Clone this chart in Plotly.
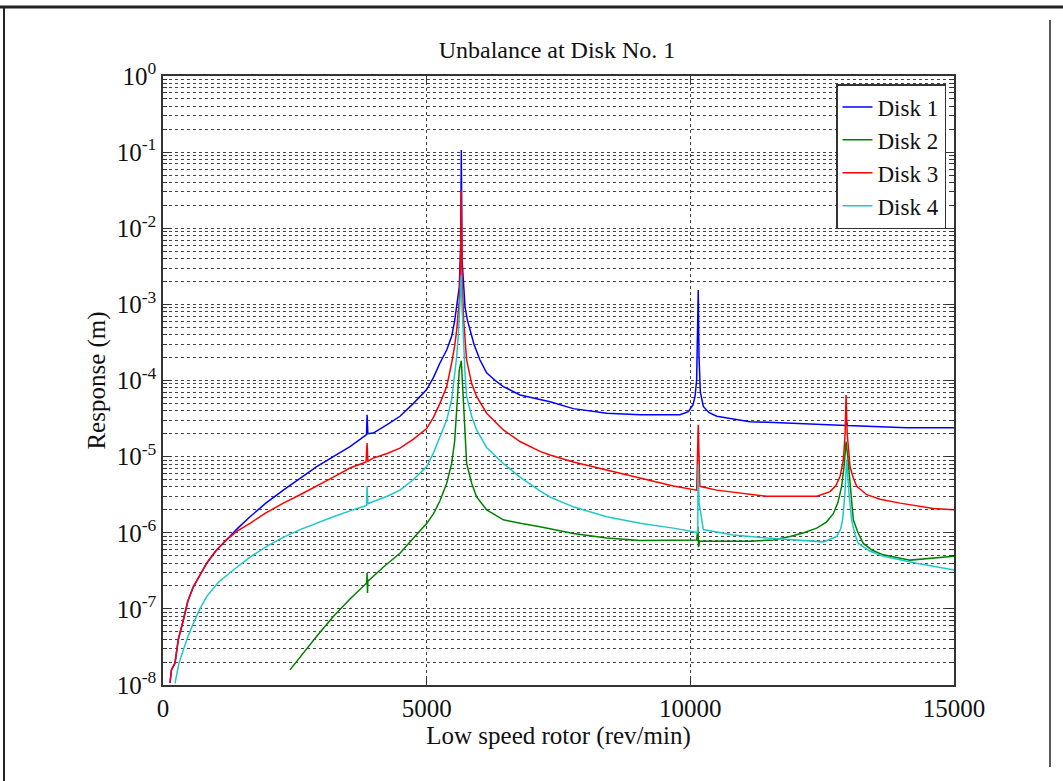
import plotly.graph_objects as go

# ---- data (speed in rev/min, response in m) ----
disk1_x = [133, 160, 228, 290, 385, 470, 575, 700, 828, 1000, 1208, 1420, 1650, 1950, 2282, 2600,
           2915, 3230, 3546, 3860, 3870, 3885, 3988, 4250, 4494, 4750, 5000, 5130, 5252, 5380,
           5474, 5530, 5569, 5600, 5619, 5645, 5657, 5670, 5700, 5727, 5770, 5822, 5900, 6011,
           6137, 6300, 6454, 6770, 7149, 7339, 7781, 8414, 9046, 9804, 9962, 10050, 10089, 10120,
           10150, 10165, 10190, 10246, 10350, 10500, 11131, 12079, 12950, 12965, 12980, 14103, 15000]
disk1_y = [1.07e-8, 1.58e-8, 1.95e-8, 3.98e-8, 7.08e-8, 1.26e-7, 1.95e-7, 2.82e-7, 3.98e-7, 5.75e-7,
           8.13e-7, 1.15e-6, 1.62e-6, 2.45e-6, 3.63e-6, 5.25e-6, 7.41e-6, 1.0e-5, 1.35e-5, 1.95e-5,
           3.55e-5, 2.0e-5, 2.04e-5, 2.63e-5, 3.39e-5, 5.01e-5, 7.59e-5, 1.10e-4, 1.70e-4, 2.51e-4,
           3.80e-4, 6.03e-4, 9.33e-4, 1.32e-3, 1.70e-3, 6.31e-3, 1.07e-1, 3.98e-3, 1.58e-3, 9.33e-4,
           6.31e-4, 4.57e-4, 2.95e-4, 1.86e-4, 1.26e-4, 1.0e-4, 8.32e-5, 6.46e-5, 5.56e-5, 5.25e-5,
           4.27e-5, 3.72e-5, 3.55e-5, 3.55e-5, 3.89e-5, 4.79e-5, 6.17e-5, 1.02e-4, 1.55e-3, 2.0e-4,
           7.08e-5, 4.57e-5, 3.80e-5, 3.39e-5, 2.88e-5, 2.69e-5, 2.57e-5, 2.82e-5, 2.57e-5, 2.40e-5,
           2.40e-5]

disk2_x = [2408, 2598, 2915, 3230, 3546, 3863, 3870, 3878, 3886, 3895, 4180, 4494, 4750, 5000, 5130,
           5252, 5380, 5474, 5530, 5569, 5600, 5619, 5657, 5700, 5727, 5758, 5853, 5947, 6137, 6454,
           6800, 7149, 7781, 8414, 9046, 9677, 10120, 10145, 10155, 10175, 11131, 11574, 11890,
           12150, 12396, 12580, 12711, 12800, 12869, 12920, 12953, 12985, 13015, 13050, 13091,
           13180, 13281, 13450, 13660, 14166, 14608, 15000]
disk2_y = [1.58e-8, 2.34e-8, 4.37e-8, 7.94e-8, 1.35e-7, 2.19e-7, 2.95e-7, 1.62e-7, 2.40e-7, 2.34e-7,
           3.55e-7, 5.37e-7, 8.51e-7, 1.32e-6, 1.78e-6, 2.63e-6, 4.47e-6, 8.13e-6, 1.58e-5, 3.72e-5,
           7.08e-5, 1.38e-4, 1.82e-4, 5.01e-5, 1.78e-5, 8.13e-6, 4.47e-6, 2.95e-6, 2.0e-6, 1.48e-6,
           1.32e-6, 1.20e-6, 9.77e-7, 8.51e-7, 7.94e-7, 7.94e-7, 8.04e-7, 1.20e-6, 6.46e-7, 7.76e-7,
           7.76e-7, 8.04e-7, 8.91e-7, 1.0e-6, 1.15e-6, 1.38e-6, 1.78e-6, 2.51e-6, 4.07e-6, 7.94e-6,
           1.58e-5, 1.0e-5, 5.50e-6, 2.82e-6, 1.48e-6, 1.0e-6, 7.24e-7, 5.89e-7, 5.13e-7, 4.37e-7,
           4.68e-7, 4.90e-7]

disk3_x = [133, 160, 228, 290, 385, 470, 575, 700, 828, 1000, 1208, 1420, 1650, 1950, 2282, 2600,
           2915, 3230, 3546, 3850, 3870, 3885, 3988, 4250, 4494, 4750, 5000, 5130, 5252, 5380,
           5474, 5530, 5569, 5600, 5619, 5645, 5657, 5670, 5700, 5758, 5853, 5947, 6137, 6454,
           6770, 7149, 7339, 7781, 8414, 9046, 9677, 10120, 10150, 10165, 10180, 10500, 11448,
           12396, 12650, 12760, 12840, 12903, 12935, 12953, 12975, 13028, 13090, 13155, 13345,
           13600, 13976, 14608, 15000]
disk3_y = [1.07e-8, 1.58e-8, 1.95e-8, 3.98e-8, 7.08e-8, 1.26e-7, 1.95e-7, 2.82e-7, 3.98e-7, 5.75e-7,
           8.13e-7, 1.07e-6, 1.33e-6, 1.82e-6, 2.45e-6, 3.16e-6, 4.07e-6, 5.37e-6, 7.08e-6, 8.51e-6,
           1.51e-5, 8.71e-6, 9.55e-6, 1.10e-5, 1.29e-5, 1.70e-5, 2.34e-5, 3.31e-5, 5.01e-5, 8.32e-5,
           1.70e-4, 2.82e-4, 4.57e-4, 7.94e-4, 1.12e-3, 3.98e-3, 3.16e-2, 2.51e-3, 6.31e-4, 1.86e-4,
           9.12e-5, 6.17e-5, 3.72e-5, 2.24e-5, 1.58e-5, 1.17e-5, 1.05e-5, 8.51e-6, 6.68e-6, 5.25e-6,
           4.12e-6, 3.63e-6, 2.63e-5, 1.0e-5, 4.07e-6, 3.63e-6, 3.02e-6, 3.02e-6, 3.47e-6, 4.17e-6,
           5.50e-6, 9.12e-6, 2.0e-5, 6.46e-5, 2.0e-5, 7.41e-6, 5.25e-6, 4.07e-6, 3.16e-6, 2.75e-6,
           2.45e-6, 2.09e-6, 2.0e-6]

disk4_x = [228, 300, 385, 475, 575, 700, 828, 1050, 1333, 1650, 1966, 2280, 2598, 2915, 3230, 3520,
           3799, 3860, 3870, 3885, 3988, 4250, 4494, 4750, 5000, 5130, 5252, 5380, 5474, 5530,
           5569, 5600, 5619, 5645, 5657, 5670, 5700, 5727, 5758, 5853, 5947, 6137, 6454, 6770,
           7149, 7339, 7781, 8414, 9046, 9677, 10089, 10140, 10150, 10165, 10246, 10815, 11448,
           12079, 12521, 12774, 12850, 12888, 12930, 12964, 13010, 13059, 13120, 13186, 13400,
           13660, 14292, 15000]
disk4_y = [1.05e-8, 1.91e-8, 2.88e-8, 4.37e-8, 6.46e-8, 1.0e-7, 1.45e-7, 2.24e-7, 3.24e-7, 4.79e-7,
           6.61e-7, 8.71e-7, 1.10e-6, 1.35e-6, 1.62e-6, 1.91e-6, 2.19e-6, 2.29e-6, 4.07e-6, 2.40e-6,
           2.57e-6, 3.02e-6, 3.63e-6, 5.01e-6, 7.41e-6, 1.12e-5, 1.82e-5, 3.02e-5, 5.62e-5, 1.12e-4,
           2.04e-4, 3.98e-4, 6.61e-4, 1.26e-3, 2.40e-3, 1.0e-3, 3.16e-4, 1.26e-4, 6.17e-5, 3.39e-5,
           2.24e-5, 1.32e-5, 8.13e-6, 5.37e-6, 3.55e-6, 2.95e-6, 2.19e-6, 1.62e-6, 1.33e-6, 1.15e-6,
           1.02e-6, 1.0e-6, 7.94e-6, 2.51e-6, 1.10e-6, 9.33e-7, 8.51e-7, 7.94e-7, 7.59e-7, 8.91e-7,
           1.12e-6, 1.48e-6, 3.16e-6, 9.12e-6, 3.16e-6, 1.48e-6, 9.55e-7, 7.24e-7, 5.75e-7, 4.90e-7,
           3.98e-7, 3.24e-7]

series_names = ["Disk 1", "Disk 2", "Disk 3", "Disk 4"]
series_colors = ["#0000FF", "#008000", "#FF0000", "#1FC8C8"]

x_tickvals = [0, 5000, 10000, 15000]
x_ticktext = ["0", "5000", "10000", "15000"]
y_exponents = [0, -1, -2, -3, -4, -5, -6, -7, -8]

title_text = "Unbalance at Disk No. 1"
x_title = "Low speed rotor (rev/min)"
y_title = "Response (m)"

# ---- figure ----
W, H = 1063, 781
L, R, T, B = 163, 954, 76, 685
FONT = "Liberation Serif, Times New Roman, serif"
TXT = "#111111"

fig = go.Figure()
for xs, ys, name, col in zip([disk1_x, disk2_x, disk3_x, disk4_x],
                             [disk1_y, disk2_y, disk3_y, disk4_y],
                             series_names, series_colors):
    fig.add_trace(go.Scatter(x=xs, y=ys, mode="lines", name=name,
                             line=dict(color=col, width=1.5)))

grid_col = "#444444"
fig.update_xaxes(
    range=[0, 15000], tickvals=x_tickvals, ticktext=x_ticktext,
    showline=True, linecolor="#333333", linewidth=1.5, mirror="ticks",
    ticks="inside", ticklen=8, tickcolor="#333333",
    showgrid=True, gridcolor=grid_col, gridwidth=1, griddash="3px,3px",
    zeroline=False, tickfont=dict(family=FONT, size=25, color=TXT),
    title=dict(text=x_title, font=dict(family=FONT, size=25, color=TXT), standoff=6),
)
fig.update_yaxes(
    type="log", range=[-8, 0],
    tickvals=[10.0 ** e for e in y_exponents],
    ticktext=["10<sup>%d</sup>" % e for e in y_exponents],
    showline=True, linecolor="#333333", linewidth=1.5, mirror="ticks",
    ticks="inside", ticklen=8, tickcolor="#333333",
    showgrid=True, gridcolor=grid_col, gridwidth=1, griddash="3px,3px",
    minor=dict(dtick="D1", showgrid=True, gridcolor=grid_col, gridwidth=1,
               griddash="3px,3px", ticks="inside", ticklen=4, tickcolor="#333333"),
    zeroline=False, tickfont=dict(family=FONT, size=25, color=TXT),
    title=dict(text=y_title, font=dict(family=FONT, size=25, color=TXT), standoff=4),
)

def px_x(p):
    return (p - L) / (R - L)

def px_y(p):
    return (B - p) / (B - T)

shapes = [
    dict(type="line", xref="paper", yref="paper", x0=px_x(0), x1=px_x(W), y0=px_y(7), y1=px_y(7),
         line=dict(color="#222222", width=3)),
    dict(type="line", xref="paper", yref="paper", x0=px_x(4), x1=px_x(4), y0=px_y(7), y1=px_y(781),
         line=dict(color="#222222", width=2)),
    dict(type="line", xref="paper", yref="paper", x0=px_x(1050), x1=px_x(1050), y0=px_y(20), y1=px_y(767),
         line=dict(color="#222222", width=1.5)),
]

fig.update_layout(
    width=W, height=H,
    margin=dict(l=L, r=W - R, t=T, b=H - B, pad=0),
    paper_bgcolor="white", plot_bgcolor="white",
    font=dict(family=FONT, size=24, color=TXT),
    title=dict(text=title_text, x=px_x(557), xref="paper", xanchor="center",
               y=1 - 50 / H, yref="container", yanchor="middle",
               font=dict(family=FONT, size=24, color=TXT)),
    legend=dict(x=px_x(946), y=px_y(84), xanchor="right", yanchor="top",
                bgcolor="white", bordercolor="#333333", borderwidth=1.5,
                font=dict(family=FONT, size=23, color=TXT),
                tracegroupgap=0),
    shapes=shapes,
    showlegend=True,
)

fig.write_html("out.html")
